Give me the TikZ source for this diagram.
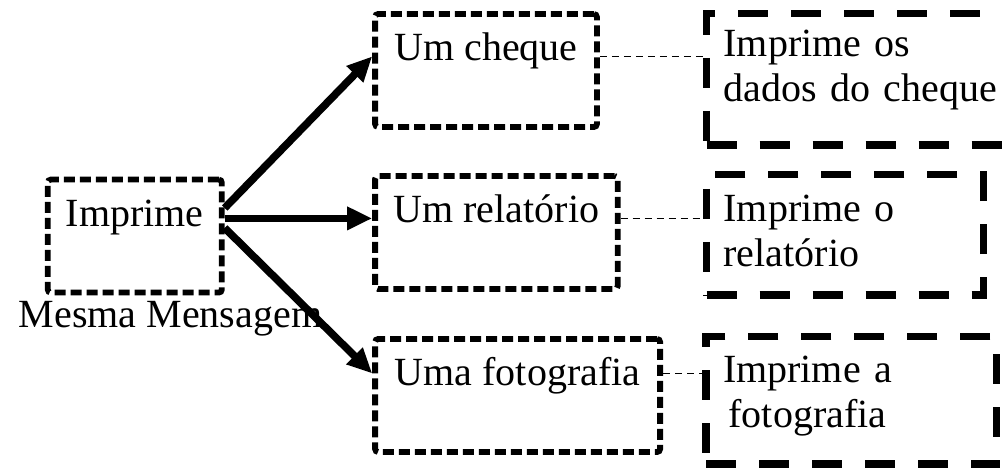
\documentclass[tikz,border=0pt]{standalone}
\usepackage{fontspec}
\setmainfont{Liberation Serif}
\usetikzlibrary{positioning,arrows.meta}

\tikzset{
    msgbox/.style={draw, line width=2.9pt, dash pattern=on 5.5pt off 2.5pt,
        rounded corners=1.5pt, inner sep=0pt, text height=23.5pt, text depth=33pt},
    actbox/.style={draw, line width=3.6pt, dash pattern=on 15pt off 11.5pt,
        inner xsep=8.5pt, inner ysep=0pt, align=left, anchor=base west},
    send/.style={-{Triangle[length=12.5pt,width=11pt]}, line width=3.8pt},
    link/.style={line width=0.7pt, dash pattern=on 3.5pt off 2.5pt}
}

\begin{document}
\begin{tikzpicture}[x=1pt, y=1pt,
    font=\fontsize{20}{22.5}\selectfont]
    \useasboundingbox (0,0) rectangle (501,234.5);

    % the message and its receivers
    \node[msgbox, minimum width=87pt, anchor=base] (imp) at (67.4,121.2) {Imprime};
    \node[anchor=base west] (same) at (5.9,70.5) {Mesma Mensagem};
    \node[msgbox, minimum width=110.9pt, anchor=base west] (cheque) at (186.1,204) {Um cheque};
    \node[msgbox, minimum width=121.3pt] (relat) [below=21.6pt of cheque.south west, anchor=north west] {Um relatório};
    \node[msgbox, minimum width=142.5pt] (foto) [below=22.1pt of relat.south west, anchor=north west] {Uma fotografia};

    % what each receiver does
    \node[actbox, text width=137.6pt, text height=21.7pt, text depth=44.2pt] (ipcheque) at (351.5,206.2)
        {Imprime os\\dados do cheque};
    \node[actbox, text width=121.6pt, text height=23.7pt, text depth=36.5pt] (iprelat) at (351.5,123.5)
        {Imprime o\\relatório};
    \node[actbox, text width=128.3pt, text height=23.1pt, text depth=40.5pt] (ipfoto) at (351.2,43)
        {\begin{tabular}[t]{@{}c@{}}Imprime a\\fotografia\end{tabular}};

    % same message sent to all three
    \draw[send] ([yshift=7pt]imp.mid east) -- (cheque.mid west);
    \draw[send] (imp.east |- relat.mid west) -- (relat.mid west);
    \draw[send] ([yshift=-3pt]imp.mid east) -- ([yshift=4pt]foto.mid west);

    \coordinate (fotoout) at ([yshift=4pt]foto.mid east);
    \draw[link] (cheque.mid east) -- (cheque.mid east -| ipcheque.west);
    \draw[link] (relat.mid east) -- (relat.mid east -| iprelat.west);
    \draw[link] (fotoout) -- (fotoout -| ipfoto.west);
\end{tikzpicture}
\end{document}
